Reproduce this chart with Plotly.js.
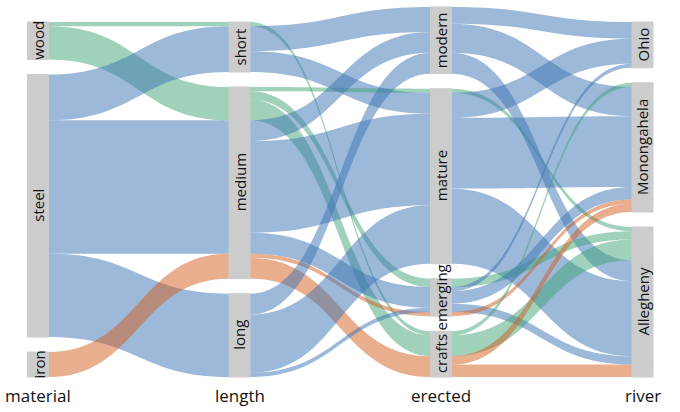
<!DOCTYPE html>
<html><head><meta charset="utf-8">
<script src="https://cdn.plot.ly/plotly-3.0.1.min.js"></script>
<style>html,body{margin:0;padding:0;background:#fff}#chart{width:680px;height:412px}</style>
</head><body><div id="chart"></div>
<script>
// ---- categories ----
const axisNames = ['material', 'length', 'erected', 'river'];
const materials = ['wood', 'steel', 'iron'];
const lengths = ['short', 'medium', 'long'];
const eras = ['modern', 'mature', 'emerging', 'crafts'];
const rivers = ['Ohio', 'Monongahela', 'Allegheny'];

// ---- flows: material -> length ----
const mlFrom  = ['wood', 'wood',   'steel', 'steel',  'steel', 'iron'];
const mlTo    = ['short','medium', 'short', 'medium', 'long',  'medium'];
const mlCount = [1, 8, 11, 32, 20, 6];

// ---- flows: length -> erected (coloured by material) ----
const leFrom  = ['short','short','short','medium','medium','medium','medium','medium','medium','medium','medium','long','long','long'];
const leTo    = ['crafts','modern','mature','mature','emerging','crafts','modern','mature','emerging','emerging','crafts','modern','mature','emerging'];
const leMat   = ['wood','steel','steel','wood','wood','wood','steel','steel','steel','iron','iron','steel','steel','steel'];
const leCount = [1, 6, 5, 1, 2, 5, 5, 22, 5, 1, 5, 5, 14, 1];

// ---- flows: erected -> river (coloured by material) ----
const erFrom  = ['modern','modern','modern','mature','mature','mature','mature','emerging','emerging','emerging','emerging','emerging','crafts','crafts','crafts','crafts'];
const erTo    = ['Ohio','Monongahela','Allegheny','Allegheny','Ohio','Monongahela','Allegheny','Allegheny','Ohio','Monongahela','Allegheny','Monongahela','Monongahela','Allegheny','Monongahela','Allegheny'];
const erMat   = ['steel','steel','steel','wood','steel','steel','steel','wood','steel','steel','steel','iron','wood','wood','iron','iron'];
const erCount = [4, 7, 5, 1, 6, 17, 18, 2, 1, 3, 2, 1, 1, 5, 2, 3];

const materialColors = {
  wood: 'rgba(63,163,119,0.5)',
  steel: 'rgba(59,115,179,0.5)',
  iron: 'rgba(209,93,29,0.5)'
};

// ---- layout geometry ----
const W = 680, H = 412;
const xLeft = 38, xRight = 642.5;
const yTop = 7, yBot = 377;
const gap = 15, thick = 21;

const cats = [materials, lengths, eras, rivers];
const steps = [
  {from: mlFrom, to: mlTo, mat: mlFrom, n: mlCount},
  {from: leFrom, to: leTo, mat: leMat, n: leCount},
  {from: erFrom, to: erTo, mat: erMat, n: erCount}
];

// sub-node counts per (axis, stratum, material)
const inC = {}, outC = {};
const key = (a, s, m) => a + '|' + s + '|' + m;
steps.forEach((st, k) => {
  st.n.forEach((v, i) => {
    const ko = key(k, st.from[i], st.mat[i]);
    const ki = key(k + 1, st.to[i], st.mat[i]);
    outC[ko] = (outC[ko] || 0) + v;
    inC[ki] = (inC[ki] || 0) + v;
  });
});
const total = mlCount.reduce((a, b) => a + b, 0);
const maxStrata = Math.max(...cats.map(c => c.length));
const unit = (yBot - yTop - gap * (maxStrata - 1)) / total;

const nodeIndex = {}, nodeX = [], nodeY = [], nodeLabel = [];
const stratumLabels = [];
let maxSub = 0;
cats.forEach((list, a) => {
  let y = yBot - (total * unit + gap * (list.length - 1));
  let nSub = 0;
  list.forEach(s => {
    const y0 = y;
    materials.forEach(m => {
      const k = key(a, s, m);
      const v = Math.max(inC[k] || 0, outC[k] || 0);
      if (v > 0) {
        nodeIndex[k] = nodeX.length;
        nodeX.push(Math.max(a / (cats.length - 1), 1e-6));
        nodeY.push((y + v * unit / 2 - yTop) / (yBot - yTop));
        nodeLabel.push('');
        y += v * unit;
        nSub++;
      }
    });
    stratumLabels.push({a: a, text: s, cy: (y0 + y) / 2});
    y += gap;
  });
  maxSub = Math.max(maxSub, nSub);
});
const pad = gap * (maxStrata - 1) / (maxSub - 1);

const src = [], tgt = [], val = [], col = [];
steps.forEach((st, k) => {
  st.n.forEach((v, i) => {
    src.push(nodeIndex[key(k, st.from[i], st.mat[i])]);
    tgt.push(nodeIndex[key(k + 1, st.to[i], st.mat[i])]);
    val.push(v);
    col.push(materialColors[st.mat[i]]);
  });
});

const axisXpx = a => xLeft + a * (xRight - xLeft) / (cats.length - 1);

const annotations = [];
stratumLabels.forEach(l => {
  annotations.push({
    x: axisXpx(l.a) / W, y: 1 - l.cy / H, xref: 'paper', yref: 'paper',
    text: l.text, textangle: -90, showarrow: false,
    xanchor: 'center', yanchor: 'middle',
    font: {family: 'Open Sans, sans-serif', size: 15, color: '#111111'}
  });
});
axisNames.forEach((n, a) => {
  annotations.push({
    x: axisXpx(a) / W, y: 1 - 395 / H, xref: 'paper', yref: 'paper',
    text: n, showarrow: false, xanchor: 'center', yanchor: 'middle',
    font: {family: 'Open Sans, sans-serif', size: 17, color: '#111111'}
  });
});

const trace = {
  type: 'sankey',
  arrangement: 'fixed',
  domain: {x: [xLeft / W, xRight / W], y: [1 - yBot / H, 1 - yTop / H]},
  node: {
    label: nodeLabel, x: nodeX, y: nodeY,
    pad: pad, thickness: thick,
    color: '#cccccc', line: {color: '#cccccc', width: 1},
    hoverinfo: 'none'
  },
  link: {source: src, target: tgt, value: val, color: col, line: {width: 0}, hoverinfo: 'none'}
};

Plotly.newPlot('chart', [trace], {
  width: W, height: H,
  margin: {l: 0, r: 0, t: 0, b: 0},
  paper_bgcolor: '#ffffff',
  font: {family: 'Open Sans, sans-serif'},
  annotations: annotations,
  showlegend: false
}, {displayModeBar: false, staticPlot: true});
</script>
</body></html>
